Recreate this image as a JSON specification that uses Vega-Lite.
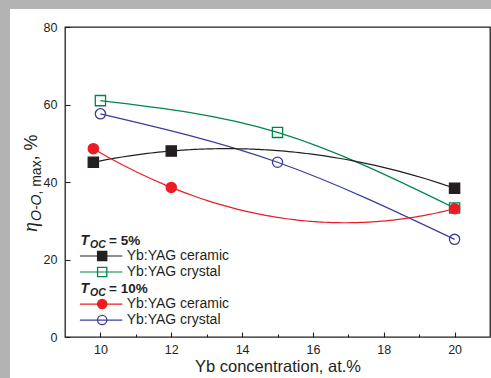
{
  "$schema": "https://vega.github.io/schema/vega-lite/v6.json",
  "width": 425,
  "height": 310,
  "autosize": {"type": "none"},
  "padding": {"left": 65, "top": 27, "right": 1, "bottom": 41},
  "background": "#ffffff",
  "config": {
    "view": {"stroke": "#231f20", "strokeWidth": 1.3},
    "font": "Liberation Sans",
    "axis": {
      "zindex": 1,
      "grid": false,
      "domain": false,
      "tickColor": "#231f20",
      "tickWidth": 1.1,
      "labelColor": "#231f20",
      "labelFont": "Liberation Sans",
      "labelFontSize": 12.5,
      "titleColor": "#231f20",
      "titleFont": "Liberation Sans",
      "titleFontWeight": "normal"
    }
  },
  "datasets": {
    "measurements": [
      {"conc": 9.8, "eff": 45.1, "series": "c5"},
      {"conc": 12, "eff": 48.0, "series": "c5"},
      {"conc": 20, "eff": 38.4, "series": "c5"},
      {"conc": 10, "eff": 61.0, "series": "x5"},
      {"conc": 15, "eff": 52.8, "series": "x5"},
      {"conc": 20, "eff": 33.3, "series": "x5"},
      {"conc": 9.8, "eff": 48.6, "series": "c10"},
      {"conc": 12, "eff": 38.6, "series": "c10"},
      {"conc": 20, "eff": 33.1, "series": "c10"},
      {"conc": 10, "eff": 57.6, "series": "x10"},
      {"conc": 15, "eff": 45.1, "series": "x10"},
      {"conc": 20, "eff": 25.2, "series": "x10"}
    ],
    "key": [
      {"slot": 6, "kind": "header", "group": "= 5%"},
      {"slot": 5, "kind": "item", "series": "c5", "label": "Yb:YAG ceramic"},
      {"slot": 4, "kind": "item", "series": "x5", "label": "Yb:YAG crystal"},
      {"slot": 3, "kind": "header", "group": "= 10%"},
      {"slot": 2, "kind": "item", "series": "c10", "label": "Yb:YAG ceramic"},
      {"slot": 1, "kind": "item", "series": "x10", "label": "Yb:YAG crystal"}
    ]
  },
  "layer": [
    {
      "data": {"name": "measurements"},
      "layer": [
        {
          "data": {"values": [{}]},
          "mark": {"type": "rect", "fill": "#b3b3b3"},
          "encoding": {"x": {"datum": 5}, "x2": {"datum": 7.447}, "y": {"datum": -15}, "y2": {"datum": 95}}
        },
        {
          "data": {"values": [{}]},
          "mark": {"type": "rect", "fill": "#b3b3b3"},
          "encoding": {"x": {"datum": 5}, "x2": {"datum": 23}, "y": {"datum": 84.65}, "y2": {"datum": 95}}
        },
        {
          "transform": [{"filter": "datum.series === 'x5' || datum.series === 'x10'"}],
          "mark": {"type": "line", "interpolate": "natural", "strokeWidth": 1.2},
          "encoding": {
            "x": {
              "field": "conc", "type": "quantitative",
              "scale": {"domain": [9, 21], "nice": false, "zero": false},
              "axis": {
                "title": "Yb concentration, at.%",
                "titleFontSize": 16.5,
                "titlePadding": 3,
                "values": [10, 11, 12, 13, 14, 15, 16, 17, 18, 19, 20],
                "labelExpr": "datum.value % 2 === 0 ? datum.label : ''",
                "tickSize": {"condition": {"test": "datum.value % 2 === 0", "value": -5}, "value": -3},
                "labelPadding": 11
              }
            },
            "y": {
              "field": "eff", "type": "quantitative",
              "scale": {"domain": [0, 80], "nice": false},
              "axis": {
                "title": null,
                "values": [0, 10, 20, 30, 40, 50, 60, 70, 80],
                "labelExpr": "datum.value % 20 === 0 ? datum.label : ''",
                "tickSize": {"condition": {"test": "datum.value % 20 === 0", "value": -5}, "value": -3},
                "labelPadding": 13
              }
            },
            "color": {
              "field": "series", "type": "nominal",
              "scale": {"domain": ["c5", "x5", "c10", "x10"], "range": ["#231f20", "#00864b", "#ed1c24", "#3a3c9e"]},
              "legend": null
            }
          }
        },
        {
          "transform": [
            {"filter": "datum.series === 'c5' || datum.series === 'c10'"},
            {"regression": "eff", "on": "conc", "groupby": ["series"], "method": "poly", "order": 2, "extent": [9.8, 20]}
          ],
          "mark": {"type": "line", "strokeWidth": 1.2},
          "encoding": {
            "x": {"field": "conc", "type": "quantitative"},
            "y": {"field": "eff", "type": "quantitative"},
            "color": {"field": "series", "type": "nominal", "legend": null}
          }
        },
        {
          "mark": {"type": "point", "filled": false, "size": 105, "strokeWidth": 1.3, "opacity": 1},
          "encoding": {
            "x": {"field": "conc", "type": "quantitative"},
            "y": {"field": "eff", "type": "quantitative"},
            "color": {"field": "series", "type": "nominal", "legend": null},
            "shape": {
              "field": "series", "type": "nominal",
              "scale": {"domain": ["c5", "x5", "c10", "x10"], "range": ["square", "square", "circle", "circle"]},
              "legend": null
            },
            "fill": {
              "field": "series", "type": "nominal",
              "scale": {"domain": ["c5", "x5", "c10", "x10"], "range": ["#231f20", "transparent", "#ed1c24", "transparent"]},
              "legend": null
            }
          }
        },
        {
          "data": {"values": [{}]},
          "encoding": {"x": {"datum": 8.21}, "y": {"datum": 27.1}},
          "layer": [
            {"mark": {"type": "text", "text": "η", "angle": 270, "align": "left", "baseline": "alphabetic", "font": "Liberation Serif", "fontStyle": "italic", "fontSize": 20, "color": "#231f20"}},
            {"mark": {"type": "text", "text": "O-O", "angle": 270, "align": "left", "baseline": "alphabetic", "dx": 11, "dy": 3.5, "fontStyle": "italic", "fontSize": 14, "color": "#231f20"}},
            {"mark": {"type": "text", "text": ", max", "angle": 270, "align": "left", "baseline": "alphabetic", "dx": 37.4, "dy": 3.5, "fontSize": 14, "color": "#231f20"}},
            {"mark": {"type": "text", "text": ", %", "angle": 270, "align": "left", "baseline": "alphabetic", "dx": 71.6, "fontSize": 18, "color": "#231f20"}}
          ]
        }
      ]
    },
    {
      "data": {"name": "key"},
      "encoding": {
        "y": {"field": "slot", "type": "quantitative", "scale": {"domain": [-0.06, 19.31]}, "axis": null}
      },
      "layer": [
        {
          "transform": [{"filter": "datum.kind === 'item'"}],
          "mark": {"type": "rule", "strokeWidth": 1.2},
          "encoding": {
            "x": {"datum": 9.42}, "x2": {"datum": 10.62},
            "color": {"field": "series", "type": "nominal", "legend": null}
          }
        },
        {
          "transform": [{"filter": "datum.kind === 'item'"}],
          "mark": {"type": "point", "filled": false, "size": 85, "strokeWidth": 1.3, "opacity": 1},
          "encoding": {
            "x": {"datum": 10.05},
            "color": {"field": "series", "type": "nominal", "legend": null},
            "shape": {"field": "series", "type": "nominal", "legend": null},
            "fill": {"field": "series", "type": "nominal", "legend": null}
          }
        },
        {
          "transform": [{"filter": "datum.kind === 'item'"}],
          "mark": {"type": "text", "align": "left", "baseline": "middle", "fontSize": 14, "color": "#231f20"},
          "encoding": {"x": {"datum": 10.74}, "text": {"field": "label"}}
        },
        {
          "transform": [{"filter": "datum.kind === 'header'"}],
          "mark": {"type": "text", "text": "T", "align": "left", "baseline": "alphabetic", "dx": 0.5, "dy": 5, "fontSize": 14, "fontWeight": "bold", "fontStyle": "italic", "color": "#231f20"},
          "encoding": {"x": {"datum": 9.4235}}
        },
        {
          "transform": [{"filter": "datum.kind === 'header'"}],
          "mark": {"type": "text", "text": "OC", "align": "left", "baseline": "alphabetic", "dx": 10, "dy": 7.5, "fontSize": 10.5, "fontWeight": "bold", "fontStyle": "italic", "color": "#231f20"},
          "encoding": {"x": {"datum": 9.4235}}
        },
        {
          "transform": [{"filter": "datum.kind === 'header'"}],
          "mark": {"type": "text", "align": "left", "baseline": "alphabetic", "dx": 29, "dy": 5, "fontSize": 13.5, "fontWeight": "bold", "color": "#231f20"},
          "encoding": {"x": {"datum": 9.4235}, "text": {"field": "group"}}
        }
      ]
    }
  ],
  "resolve": {"scale": {"y": "independent"}}
}
